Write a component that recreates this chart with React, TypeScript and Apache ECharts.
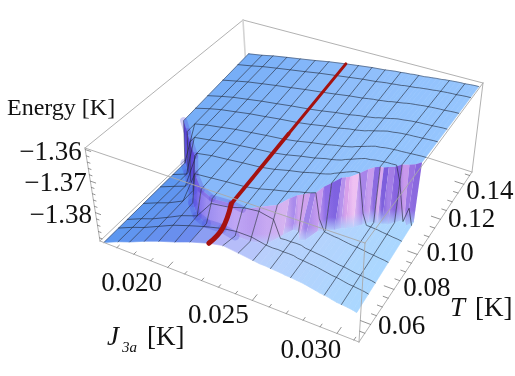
import React, { useEffect, useRef } from "react";
import * as echarts from "echarts";

// ---- data (J in K, T in K, E in K) ----
const jColumns = [0.01623,0.01712,0.01784,0.01875,0.01963,0.02059,0.02148,0.02258,0.02339,0.02426,0.0251,0.02549,0.02579,0.0261,0.0264,0.02671,0.02694,0.02725,0.02763,0.02786,0.02809,0.02839,0.0287,0.02893,0.02919,0.02939,0.02962,0.02992,0.03018,0.03054,0.03084,0.03107];
const wallFootT = [0.1034,0.0966,0.0907,0.083,0.0733,0.0655,0.0616,0.0597,0.0587,0.0587,0.0606,0.0674,0.0713,0.0713,0.0674,0.0683,0.0751,0.077,0.079,0.0809,0.0819,0.0838,0.0867,0.0887,0.0897,0.0897,0.0906,0.0916,0.0935,0.0964,0.0945,0.0974];
const wallFootE = [-1.3884,-1.3866,-1.3852,-1.3828,-1.3804,-1.379,-1.3778,-1.3763,-1.3766,-1.3766,-1.3766,-1.3766,-1.3763,-1.3763,-1.3763,-1.3763,-1.3765,-1.3766,-1.3768,-1.3769,-1.3769,-1.3771,-1.3772,-1.3772,-1.3772,-1.3773,-1.3773,-1.3775,-1.3775,-1.3776,-1.3778,-1.3778];
const wallTopT = [0.1053,0.0985,0.0927,0.0859,0.0762,0.0694,0.0665,0.0665,0.0646,0.0665,0.0684,0.0723,0.0742,0.0752,0.0761,0.0761,0.079,0.081,0.0839,0.0839,0.0839,0.0868,0.0897,0.0916,0.0926,0.0926,0.0936,0.0945,0.0965,0.0974,0.0984,0.1004];
const wallTopE = [-1.3748,-1.3737,-1.3731,-1.3727,-1.3724,-1.3724,-1.3722,-1.3718,-1.3711,-1.3696,-1.3684,-1.3675,-1.3669,-1.3665,-1.366,-1.3654,-1.3646,-1.3638,-1.3628,-1.3623,-1.3618,-1.3617,-1.3613,-1.3612,-1.3611,-1.361,-1.361,-1.3609,-1.3608,-1.3607,-1.3606,-1.3606];
const frontE = [-1.389,-1.3869,-1.3855,-1.3834,-1.3816,-1.3799,-1.3781,-1.3763,-1.3754,-1.376,-1.3766,-1.3769,-1.3769,-1.3771,-1.3772,-1.3773,-1.3775,-1.3776,-1.3778,-1.3779,-1.3781,-1.3784,-1.3787,-1.379,-1.3791,-1.3793,-1.3796,-1.3799,-1.38,-1.3802,-1.3804,-1.3807];
const backE = [-1.3716,-1.3707,-1.3698,-1.3689,-1.3681,-1.3672,-1.3663,-1.3654,-1.3648,-1.3642,-1.3638,-1.3635,-1.3633,-1.3632,-1.363,-1.3629,-1.3627,-1.3626,-1.3625,-1.3623,-1.3622,-1.362,-1.3619,-1.3617,-1.3616,-1.3615,-1.3614,-1.3613,-1.3613,-1.3611,-1.361,-1.361];
const meshJ = [0.01712,0.01784,0.01875,0.01963,0.02059,0.02148,0.02339,0.02426,0.0251,0.0261,0.02725,0.02919,0.03018];
const meshT = [0.0597,0.0655,0.0762,0.0873,0.0956,0.1034,0.113,0.1208,0.1305,0.1402];
const criticalJ = 0.02258;

const jRange = [0.016, 0.0313];
const tRange = [0.05, 0.147];
const eRange = [-1.389, -1.3595];

const jMinorTicks = [0.017,0.018,0.019,0.021,0.022,0.023,0.024,0.026,0.027,0.028,0.029,0.031];
const jMajorTicks = [0.02,0.025,0.03];
const tMinorTicks = [0.055,0.065,0.07,0.075,0.085,0.09,0.095,0.105,0.11,0.115,0.125,0.13,0.135,0.145];
const tMajorTicks = [0.06,0.08,0.1,0.12,0.14];
const eMinorTicks = [-1.388,-1.386,-1.384,-1.382,-1.378,-1.376,-1.374,-1.372,-1.368,-1.366,-1.364,-1.362];
const eMajorTicks = [-1.38,-1.37,-1.36];

const jTickLabels = ["0.020","0.025","0.030"];
const tTickLabels = ["0.06","0.08","0.10","0.12","0.14"];
const eTickLabels = ["\u22121.38","\u22121.37","\u22121.36"];

// ---- styles ----
const wallShades = ["#5F4FDC","#5A45D2","#5B46D4","#6552DD","#6B5BE3","#7E6CEA","#9C8CF0","#B09CF4","#BFA5F5","#B89AEF","#C8A8F2","#D6B2F0","#A98AEC","#CFA2EE","#E0B8F2","#9E80E8","#C79AEE","#8E6CE6","#7E60E0","#B590EC","#D9A0EA","#F0C0F2","#A884EA","#C79CEE","#8A68E0","#D8A8EE","#7C5CDC","#A27CE6","#8660DE","#C898EC","#9A72E2","#8A66DE"];
const plateauRamp: [number, string][] = [[0,"#76ADF7"],[0.45,"#8FBEFB"],[1,"#96C6FE"]];
const lowRamp: [number, string][] = [[0,"#5C98F0"],[0.3,"#6C8CEE"],[0.43,"#B4B4F8"],[0.6,"#B9D0FC"],[1,"#A9D8FF"]];
const MESH = "#1d2433";
const BOX = "#a8a8a8";
const FONT = "Liberation Serif";

// ---- projection of the box: trilinear between its eight corners as seen ----
const C = {
  b00: [100,241], b10: [359,342], b11: [472,172], b01: [248,100],
  t00: [85,148], t10: [365,243], t11: [483,83], t01: [243,20],
};
const mix = (a: number, b: number, t: number) => a + (b - a) * t;
const mix2 = (a: number[], b: number[], t: number) => [mix(a[0],b[0],t), mix(a[1],b[1],t)];
function project(J: number, T: number, E: number) {
  const u = (J - jRange[0]) / (jRange[1] - jRange[0]);
  const v = (T - tRange[0]) / (tRange[1] - tRange[0]);
  const w = (E - eRange[0]) / (eRange[1] - eRange[0]);
  const bottom = mix2(mix2(C.b00,C.b10,u), mix2(C.b01,C.b11,u), v);
  const top = mix2(mix2(C.t00,C.t10,u), mix2(C.t01,C.t11,u), v);
  return mix2(bottom, top, w);
}
const uOf = (J: number) => (J - jRange[0]) / (jRange[1] - jRange[0]);

function hexRgb(h: string) {
  return [parseInt(h.slice(1,3),16), parseInt(h.slice(3,5),16), parseInt(h.slice(5,7),16)];
}
function ramp(stops: [number,string][], t: number) {
  let i = 0;
  while (i < stops.length - 2 && t > stops[i+1][0]) i++;
  const f = Math.max(0, Math.min(1, (t - stops[i][0]) / (stops[i+1][0] - stops[i][0])));
  const a = hexRgb(stops[i][1]), b = hexRgb(stops[i+1][1]);
  return `rgb(${Math.round(mix(a[0],b[0],f))},${Math.round(mix(a[1],b[1],f))},${Math.round(mix(a[2],b[2],f))})`;
}
function profile(i: number) {
  const J = jColumns[i];
  return [
    project(J, tRange[0], frontE[i]),
    project(J, wallFootT[i], wallFootE[i]),
    project(J, wallTopT[i], wallTopE[i]),
    project(J, tRange[1], backE[i]),
  ];
}
function energyAt(i: number, T: number) {
  const ts = [tRange[0], wallFootT[i], wallTopT[i], tRange[1]];
  const es = [frontE[i], wallFootE[i], wallTopE[i], backE[i]];
  for (let k = 0; k < 3; k++) {
    if (T <= ts[k+1]) return mix(es[k], es[k+1], (T - ts[k]) / Math.max(1e-9, ts[k+1] - ts[k]));
  }
  return es[3];
}
const strips = jColumns.slice(0, -1).map((_, i) => i);

function layer(name: string, z: number, rows: any[], draw: (row: any, i: number) => any) {
  return {
    type: "custom", name, z, coordinateSystem: "none", silent: true, animation: false,
    data: rows.map((_, i) => [i]),
    renderItem: (p: any) => draw(rows[p.dataIndex], p.dataIndex),
  };
}
const seg = (pts: number[][], stroke: string, lineWidth: number, opacity = 1, smooth = 0) => ({
  type: "polyline", shape: { points: pts, smooth }, style: { stroke, lineWidth, opacity, fill: "none", lineJoin: "round", lineCap: "round" }, silent: true,
});
const quad = (a: number[], b: number[], c: number[], d: number[], fill: any, stroke?: any) => ({
  type: "polygon", shape: { points: [a,b,c,d] }, style: { fill, stroke: stroke ?? "none", lineWidth: stroke ? 0.6 : 0 }, silent: true,
});
const label = (text: string, x: number, y: number, size: number, align = "center", italic = false) => ({
  type: "text", silent: true,
  style: { text, x, y, fill: "#111", align, verticalAlign: "middle", fontFamily: FONT, fontSize: size, fontStyle: italic ? "italic" : "normal" },
});

const J0 = jRange[0], J1 = jRange[1], T0 = tRange[0], T1 = tRange[1], E0 = eRange[0];
const backEdges = [
  [C.t00, C.t01], [C.t01, C.t11], [C.b01, C.b11], [C.b00, C.b01],
];
const frontEdges = [
  [C.t00, C.t10], [C.t10, C.t11], [C.t11, C.b11], [C.b11, C.b10], [C.b10, C.t10], [C.b00, C.b10], [C.b00, C.t00],
];
const jTicks = [...jMinorTicks.map(j => [j,0.0016]), ...jMajorTicks.map(j => [j,0.0035])];
const tTicks = [...tMinorTicks.map(t => [t,0.0003]), ...tMajorTicks.map(t => [t,0.0006])];
const eTicks = [...eMinorTicks.map(e => [e,0.00015]), ...eMajorTicks.map(e => [e,0.0003])];

const jLabelShift = [[-36,15],[-34,14],[-26,16]];
const tLabelShift = [[31,1],[33,-2],[33,-2],[31,-1],[26,6]];

function buildOption() {
  const leftCols = strips.slice(0, 8);
  const series = [
    layer("box back", 1, backEdges, (e) => seg(e, BOX, 0.9)),
    layer("back post", 2, [[C.t01, C.b01]], (e) => seg(e, "#d4d4d4", 1.6)),
    layer("plateau", 3, strips, (i) => {
      const a = profile(i), b = profile(i+1);
      const c = ramp(plateauRamp, uOf(jColumns[i]));
      return quad(a[2], b[2], b[3], a[3], c, c);
    }),
    layer("wall", 4, strips, (i) => {
      const a = profile(i), b = profile(i+1);
      const base = ramp(lowRamp, uOf(jColumns[i]));
      return {
        type: "group",
        children: [
          quad(a[1], b[1], b[2], a[2], {
            type: "linear", x: a[1][0], y: 0, x2: b[1][0] + 0.01, y2: 0, global: true,
            colorStops: [{ offset: 0, color: wallShades[i] }, { offset: 1, color: wallShades[i+1] }],
          }),
          quad(a[1], b[1], b[2], a[2], {
            type: "linear", x: 0, y: 0, x2: 0, y2: 1,
            colorStops: [
              { offset: 0, color: base.replace("rgb", "rgba").replace(")", ",0)") },
              { offset: 0.75, color: base.replace("rgb", "rgba").replace(")", ",0.05)") },
              { offset: 1, color: base.replace("rgb", "rgba").replace(")", ",0.9)") },
            ],
          }),
        ],
      };
    }),
    layer("low", 5, strips, (i) => {
      const a = profile(i), b = profile(i+1);
      const c = ramp(lowRamp, uOf(jColumns[i]));
      return quad(a[0], b[0], b[1], a[1], c, c);
    }),
    layer("glow", 6, leftCols, (i) => {
      const a = profile(i), b = profile(i+1);
      return {
        type: "group",
        children: [
          seg([a[2], b[2]], "#5A3FD8", 7, 0.28),
          seg([a[1], b[1]], "#4A50E0", 9, 0.28),
        ],
      };
    }),
    layer("mesh J", 7, meshJ, (J) => seg(profile(jColumns.indexOf(J)), MESH, 0.8, 0.75)),
    layer("mesh T", 8, meshT, (T) => seg(jColumns.map((J, i) => project(J, T, energyAt(i, T))), MESH, 0.8, 0.75)),
    layer("edges", 9, [profile(0), jColumns.map((J, i) => project(J, T1, backE[i]))], (p) => seg(p, MESH, 0.8, 0.6)),
    layer("critical", 10, [profile(jColumns.indexOf(criticalJ))], (p) => ({
      type: "group",
      children: [
        seg([p[0], p[1], p[2]], "#A5120F", 5, 1, 0.4),
        seg([p[2], mix2(p[2], p[3], 0.5)], "#A5120F", 3.8),
        seg([mix2(p[2], p[3], 0.5), p[3]], "#A5120F", 3),
      ],
    })),
    layer("box front", 11, frontEdges, (e) => seg(e, BOX, 0.9)),
    layer("j ticks", 12, jTicks, ([j, len]) => {
      const a = project(j, T0, E0), b = project(j, T0 + len, E0);
      return seg([a, b], "#777", 0.8);
    }),
    layer("t ticks", 13, tTicks, ([t, len]) => {
      const a = project(J1, t, E0), b = project(J1 - len, t, E0);
      return seg([a, b], "#777", 0.8);
    }),
    layer("e ticks", 14, eTicks, ([e, len]) => {
      const a = project(J0, T0, e), b = project(J0 + len, T0, e);
      return seg([a, b], "#777", 0.8);
    }),
    layer("j labels", 15, jTickLabels, (s, i) => {
      const p = project(jMajorTicks[i], T0, E0);
      return label(s, p[0] + jLabelShift[i][0], p[1] + jLabelShift[i][1], 27);
    }),
    layer("t labels", 16, tTickLabels, (s, i) => {
      const p = project(J1, tMajorTicks[i], E0);
      return label(s, p[0] + tLabelShift[i][0], p[1] + tLabelShift[i][1], 27);
    }),
    layer("e labels", 17, eTickLabels, (s, i) => {
      const p = project(J0, T0, eMajorTicks[i]);
      return label(s, p[0] - 3.5, p[1] + 1, 27, "right");
    }),
    layer("titles", 18, [
      ["Energy [K]", 7, 107, 24, "left", false],
      ["J", 107, 336, 27, "left", true],
      ["3a", 122, 347, 15, "left", true],
      ["[K]", 147, 336, 27, "left", false],
      ["T", 450, 307, 27, "left", true],
      ["[K]", 475, 307, 27, "left", false],
    ], (r) => label(r[0], r[1], r[2], r[3], r[4], r[5])),
  ];
  return { animation: false, backgroundColor: "#ffffff", series };
}

export default function App() {
  const ref = useRef<HTMLDivElement>(null);
  useEffect(() => {
    const chart = echarts.init(ref.current!, undefined, { renderer: "svg" });
    chart.setOption(buildOption() as any);
    return () => chart.dispose();
  }, []);
  return <div ref={ref} style={{ position: "absolute", left: 0, top: 0, width: 515, height: 376, filter: "blur(0.35px)" }} />;
}
